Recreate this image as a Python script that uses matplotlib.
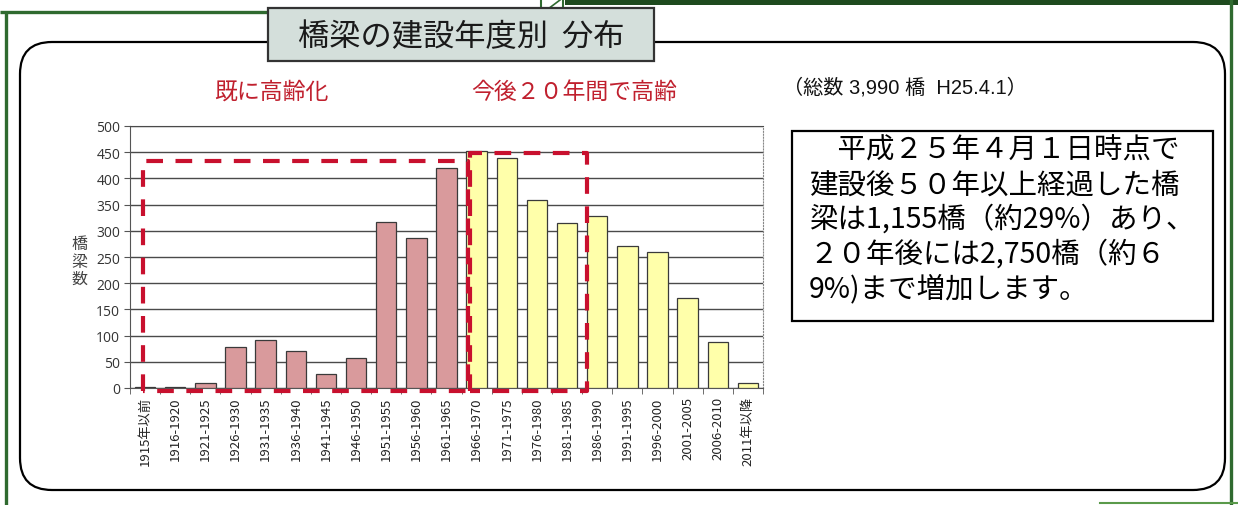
import numpy as np
import matplotlib
matplotlib.use('Agg')
import matplotlib.pyplot as plt
from matplotlib.patches import FancyBboxPatch, Rectangle

plt.rcParams['font.family'] = ['Noto Sans CJK JP', 'DejaVu Sans']

# data
periods = ['1915年以前', '1916-1920', '1921-1925', '1926-1930', '1931-1935',
           '1936-1940', '1941-1945', '1946-1950', '1951-1955', '1956-1960',
           '1961-1965', '1966-1970', '1971-1975', '1976-1980', '1981-1985',
           '1986-1990', '1991-1995', '1996-2000', '2001-2005', '2006-2010',
           '2011年以降']
bridges = [2, 2, 9, 78, 92, 71, 26, 57, 316, 286, 420,
           452, 439, 358, 314, 328, 271, 259, 172, 88, 10]
n_aged = 11  # first 11 periods are already over 50 years

title = '橋梁の建設年度別  分布'
label_aged = '既に高齢化'
label_soon = '今後２０年間で高齢'
total_note = '（総数 3,990 橋  H25.4.1）'
note_lines = ['　平成２５年４月１日時点で',
              '建設後５０年以上経過した橋',
              '梁は1,155橋（約29%）あり、',
              '２０年後には2,750橋（約６',
              '9%)まで増加します。']

W, H = 1238, 506
fig = plt.figure(figsize=(W / 100, H / 100), dpi=100)

# background frame drawn in pixel coordinates
bg = fig.add_axes([0, 0, 1, 1], zorder=0)
bg.set_xlim(0, W)
bg.set_ylim(H, 0)
bg.axis('off')

green = '#2f6a2f'
bg.plot([6, 6], [13, H], color=green, lw=2.4, solid_capstyle='butt')
bg.plot([0, 541], [13, 13], color=green, lw=2.4, solid_capstyle='butt')
bg.plot([1231, 1231], [0, H], color=green, lw=2.4, solid_capstyle='butt')
bg.plot([1100, W], [504, 504], color='#5a9a4a', lw=1.5)
bg.add_patch(Rectangle((541, -2), 22, 14, fill=False, ec=green, lw=1.5))
bg.plot([548, 560], [10, 1], color=green, lw=1.2)
bg.add_patch(Rectangle((565, 0), W - 565, 6, color='#1e4a1e', lw=0))

bg.add_patch(FancyBboxPatch((20, 43), 1205, 448,
                            boxstyle='round,pad=0,rounding_size=32',
                            fc='white', ec='black', lw=1.6))
bg.add_patch(Rectangle((268, 9), 386, 53, fc='#d4dfdb', ec='#333333', lw=1.6, zorder=3))
bg.text(461, 37, title, ha='center', va='center', fontsize=22.5, color='#1a1a1a', zorder=4)

red = '#c0202e'
bg.text(271, 92, label_aged, ha='center', va='center', fontsize=16.5, color=red)
bg.text(574, 92, label_soon, ha='center', va='center', fontsize=16.5, color=red)
bg.text(783, 88, total_note, ha='left', va='center', fontsize=14.5, color='#111111',
        family=['Liberation Sans', 'Noto Sans CJK JP'])

bg.add_patch(Rectangle((792, 132), 421, 190, fill=False, ec='black', lw=1.6))
for i, line in enumerate(note_lines):
    bg.text(809, 151 + i * 34.5, line, ha='left', va='center', fontsize=20.5, color='black')

bg.text(79, 262, '橋\n梁\n数', ha='center', va='center', fontsize=11.5,
        color='#444444', linespacing=1.05)

# bar chart
ax = fig.add_axes([130 / W, 1 - 389 / H, 633 / W, 262 / H], zorder=1)
ax.set_facecolor('none')
x = np.arange(len(periods))
colors = ['#d99a9c'] * n_aged + ['#ffffaa'] * (len(periods) - n_aged)
ax.bar(x, bridges, width=0.68, color=colors, edgecolor='#3a3a3a', lw=0.9, zorder=3)

ax.set_xlim(-0.5, len(periods) - 0.5)
ax.set_ylim(0, 500)
ax.set_yticks(np.arange(0, 501, 50))
ax.yaxis.grid(True, color='#4a4a4a', lw=1.0, zorder=0)
ax.set_axisbelow(True)
ax.tick_params(axis='y', direction='out', length=4, color='#555555',
               labelsize=10, labelcolor='#333333', pad=3)
for t in ax.get_yticklabels():
    t.set_family(['Open Sans', 'DejaVu Sans'])

ax.set_xticks(x)
ax.set_xticklabels(periods, rotation=90, fontsize=9.5, color='#222222')
ax.tick_params(axis='x', which='major', length=0, pad=6)
ax.set_xticks(np.arange(-0.5, len(periods), 1), minor=True)
ax.tick_params(axis='x', which='minor', direction='out', length=4, color='#555555')

for s in ['left', 'bottom']:
    ax.spines[s].set_color('#555555')
ax.spines['top'].set_color('#4a4a4a')
ax.spines['right'].set_color('#888888')
ax.spines['right'].set_linestyle(':')

# dashed boxes marking the two age groups
box_style = dict(color='#c8102e', lw=3, ls=(0, (4, 3)), clip_on=False, zorder=5)
ax.plot([-0.07, -0.07, 10.71, 10.71, -0.07], [-6, 433, 433, -6, -6], **box_style)
ax.plot([10.78, 10.78, 14.66, 14.66, 10.78], [-6, 448, 448, -6, -6], **box_style)

fig.savefig('out.png', dpi=100)
